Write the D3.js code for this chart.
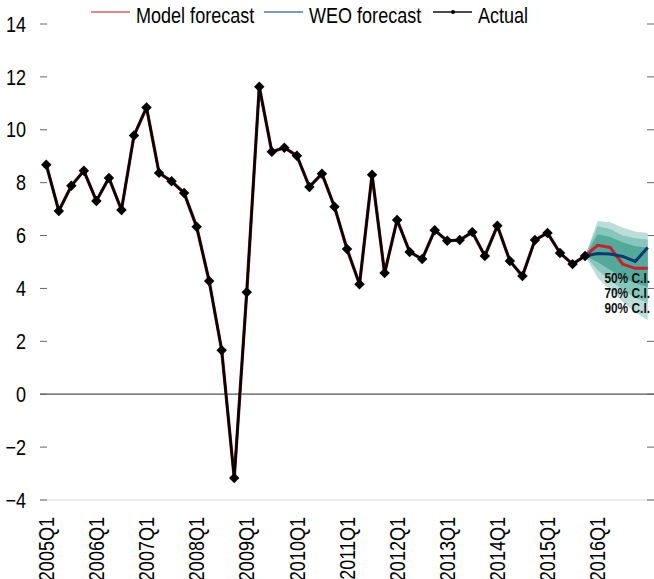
<!DOCTYPE html>
<html>
<head>
<meta charset="utf-8">
<script src="https://cdn.jsdelivr.net/npm/d3@7"></script>
<style>
    body { margin: 0; background: #fff; }
    svg { display: block; font-family: "Liberation Sans", Arial, sans-serif; }
</style>
</head>
<body>
<div id="chart"></div>
<script>

// quarters on the x axis (2005Q1 .. 2017Q1)
var quarters = [
    "2005Q1","2005Q2","2005Q3","2005Q4","2006Q1","2006Q2","2006Q3","2006Q4",
    "2007Q1","2007Q2","2007Q3","2007Q4","2008Q1","2008Q2","2008Q3","2008Q4",
    "2009Q1","2009Q2","2009Q3","2009Q4","2010Q1","2010Q2","2010Q3","2010Q4",
    "2011Q1","2011Q2","2011Q3","2011Q4","2012Q1","2012Q2","2012Q3","2012Q4",
    "2013Q1","2013Q2","2013Q3","2013Q4","2014Q1","2014Q2","2014Q3","2014Q4",
    "2015Q1","2015Q2","2015Q3","2015Q4","2016Q1","2016Q2","2016Q3","2016Q4",
    "2017Q1"
];
var xTickLabels = ["2005Q1","2006Q1","2007Q1","2008Q1","2009Q1","2010Q1",
    "2011Q1","2012Q1","2013Q1","2014Q1","2015Q1","2016Q1"];
var yTicks = [-4, -2, 0, 2, 4, 6, 8, 10, 12, 14];

// actual, 2005Q1 .. 2015Q4
var actual = [
    8.68, 6.93, 7.88, 8.45,
    7.31, 8.18, 6.97, 9.78,
    10.84, 8.37, 8.05, 7.61,
    6.33, 4.28, 1.66, -3.17,
    3.86, 11.63, 9.17, 9.32,
    9.02, 7.84, 8.34, 7.09,
    5.49, 4.16, 8.3, 4.58,
    6.59, 5.38, 5.11, 6.2,
    5.8, 5.83, 6.13, 5.23,
    6.37, 5.04, 4.47, 5.83,
    6.1, 5.34, 4.92, 5.23
];

// forecasts, 2015Q4 .. 2017Q1
var forecastQuarters = ["2015Q4","2016Q1","2016Q2","2016Q3","2016Q4","2017Q1"];
var modelForecast = [5.23, 5.63, 5.55, 4.92, 4.76, 4.76];
var weoForecast   = [5.23, 5.32, 5.3, 5.21, 5.02, 5.55];

// confidence bands
var ci90Hi = [5.23, 6.55, 6.5, 6.3, 6.15, 6.1];
var ci90Lo = [5.23, 4.4, 3.95, 3.5, 3.1, 2.8];
var ci70Hi = [5.23, 6.35, 6.25, 6.0, 5.9, 5.85];
var ci70Lo = [5.23, 4.7, 4.3, 3.95, 3.65, 3.45];
var ci50Hi = [5.23, 6.05, 5.95, 5.75, 5.6, 5.55];
var ci50Lo = [5.23, 5.0, 4.7, 4.4, 4.2, 4.05];

var width = 654, height = 579;
var plotLeft = 40, plotRight = 654, plotTop = 24, plotBottom = 500;
var narrow = " scale(0.82,1)";   // fake a narrow face

var svg = d3.select("#chart")
    .append("svg")
    .attr("width", width)
    .attr("height", height);

var x = d3.scalePoint()
    .domain(quarters)
    .range([plotLeft, plotRight])
    .padding(0.5);

var y = d3.scaleLinear()
    .domain([-4, 14])
    .range([plotBottom, plotTop]);

// bottom line and zero line
svg.append("line")
    .attr("x1", plotLeft).attr("x2", plotRight)
    .attr("y1", y(-4)).attr("y2", y(-4))
    .attr("stroke", "#d9d9d9").attr("stroke-width", 1);

svg.append("line")
    .attr("x1", plotLeft).attr("x2", plotRight)
    .attr("y1", y(0)).attr("y2", y(0))
    .attr("stroke", "#555").attr("stroke-width", 1.2);

// y ticks, both sides
svg.selectAll(".ytickL")
    .data(yTicks)
    .enter().append("line")
    .attr("x1", plotLeft).attr("x2", plotLeft + 7)
    .attr("y1", d => y(d)).attr("y2", d => y(d))
    .attr("stroke", "#666");

svg.selectAll(".ytickR")
    .data(yTicks)
    .enter().append("line")
    .attr("x1", plotRight - 7).attr("x2", plotRight)
    .attr("y1", d => y(d)).attr("y2", d => y(d))
    .attr("stroke", "#666");

svg.selectAll(".ylabel")
    .data(yTicks)
    .enter().append("text")
    .attr("transform", d => "translate(26," + y(d) + ")" + narrow)
    .attr("dy", ".35em")
    .style("text-anchor", "end")
    .style("font-size", "22px")
    .text(d => d < 0 ? "\u2212" + Math.abs(d) : d);

// x labels, rotated
svg.selectAll(".xlabel")
    .data(xTickLabels)
    .enter().append("text")
    .attr("transform", d => "translate(" + x(d) + ",517) rotate(-90)" + narrow)
    .attr("dy", ".35em")
    .style("text-anchor", "end")
    .style("font-size", "22px")
    .text(d => d);

// fan chart
var area = function(lo, hi) {
    return d3.area()
        .x((d, i) => x(forecastQuarters[i]))
        .y0((d, i) => y(lo[i]))
        .y1((d, i) => y(hi[i]))(forecastQuarters);
};

svg.append("path").attr("d", area(ci90Lo, ci90Hi)).attr("fill", "#bcdeda");
svg.append("path").attr("d", area(ci70Lo, ci70Hi)).attr("fill", "#86c6bc");
svg.append("path").attr("d", area(ci50Lo, ci50Hi)).attr("fill", "#55a99b");

// lines
var lineQ = function(labels, values) {
    return d3.line()
        .x((d, i) => x(labels[i]))
        .y(d => y(d))(values);
};

svg.append("path")
    .attr("d", lineQ(quarters, actual))
    .attr("fill", "none")
    .attr("stroke", "#8b1a2a")
    .attr("stroke-width", 3.2);

svg.append("path")
    .attr("d", lineQ(quarters, actual))
    .attr("fill", "none")
    .attr("stroke", "#000")
    .attr("stroke-width", 2.4);

svg.append("path")
    .attr("d", lineQ(forecastQuarters, modelForecast))
    .attr("fill", "none")
    .attr("stroke", "#c8202f")
    .attr("stroke-width", 3);

svg.append("path")
    .attr("d", lineQ(forecastQuarters, weoForecast))
    .attr("fill", "none")
    .attr("stroke", "#0b3a6e")
    .attr("stroke-width", 3);

// diamonds on actual
svg.selectAll(".pt")
    .data(actual)
    .enter().append("path")
    .attr("transform", (d, i) => "translate(" + x(quarters[i]) + "," + y(d) + ")")
    .attr("d", d3.symbol().type(d3.symbolDiamond2).size(70))
    .attr("fill", "#000");

// C.I. labels
var ciLabels = ["50% C.I.", "70% C.I.", "90% C.I."];
var ciLabelY = [283, 298, 313];
svg.selectAll(".ci")
    .data(ciLabels)
    .enter().append("text")
    .attr("transform", (d, i) => "translate(650," + ciLabelY[i] + ") scale(0.85,1)")
    .style("text-anchor", "end")
    .style("font-size", "14px")
    .style("font-weight", "bold")
    .attr("fill", "#111")
    .text(d => d);

// legend
var legendItems = ["Model forecast", "WEO forecast", "Actual"];
var legendColor = ["#d9606b", "#4a7cad", "#111"];
var legendX = [91, 264, 433];

var legend = svg.selectAll(".legend")
    .data(legendItems)
    .enter().append("g")
    .attr("class", "legend")
    .attr("transform", (d, i) => "translate(" + legendX[i] + ",12)");

legend.append("line")
    .attr("x1", 0).attr("x2", 39)
    .attr("stroke", (d, i) => legendColor[i])
    .attr("stroke-width", 1.3);

legend.append("text")
    .attr("transform", "translate(45,11)" + narrow)
    .style("font-size", "22px")
    .text(d => d);

legend.filter(d => d == "Actual")
    .append("circle")
    .attr("cx", 20).attr("r", 2).attr("fill", "#000");

</script>
</body>
</html>
